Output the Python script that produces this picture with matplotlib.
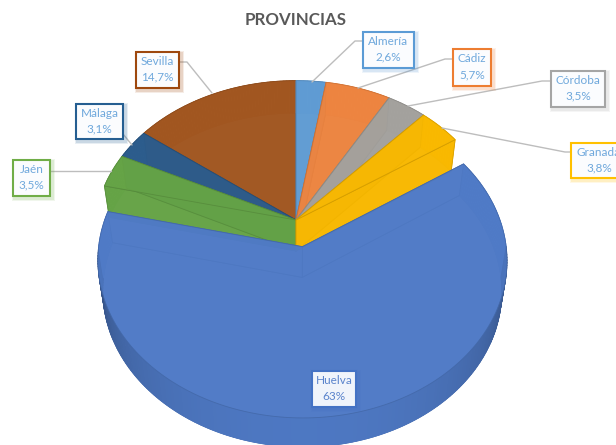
import numpy as np
import matplotlib
matplotlib.use("Agg")
import matplotlib.pyplot as plt
from matplotlib.patches import Polygon, Rectangle
import matplotlib.colors as mc

# ---- data ----
provinces = ["Almería", "Cádiz", "Córdoba", "Granada", "Huelva", "Jaén", "Málaga", "Sevilla"]
values = [2.6, 5.7, 3.5, 3.8, 63.0, 3.5, 3.1, 14.7]
value_labels = ["2,6%", "5,7%", "3,5%", "3,8%", "63%", "3,5%", "3,1%", "14,7%"]
colors = ["#5f9bd3", "#ec8440", "#a3a19d", "#f8b800", "#4f7ac6", "#65a346", "#2c5c8c", "#a15620"]
border_colors = ["#5b9bd5", "#ed7d31", "#a5a5a5", "#ffc000", "#4472c4", "#70ad47", "#255e91", "#9e480e"]
explode = [0, 0, 0, 0, 0.17, 0, 0, 0]
title = "PROVINCIAS"

# ---- layout (pixels) ----
CX, CY = 296, 220
RX, RY, K = 208, 157, 0.09
RAD, H, SHRINK, SHRINK_Y = 0.965, 31, 0.975, 0.99
ALPHA = 0.86
boxes = {"Almería": (363, 32, 51, 36), "Cádiz": (453, 49, 38, 37), "Córdoba": (551, 71, 54, 36),
         "Granada": (571, 143, 56, 35), "Huelva": (312, 371, 44, 36), "Jaén": (13, 160, 37, 36),
         "Málaga": (76, 104, 47, 35), "Sevilla": (136, 52, 43, 36)}
leaders = {"Almería": [(312, 82), (355, 41), (363, 41)], "Cádiz": [(358, 88), (445, 59), (453, 59)],
           "Córdoba": [(408, 106), (542, 81), (551, 81)], "Granada": [(442, 128), (565, 152), (571, 152)],
           "Jaén": [(111, 171), (50, 171)], "Málaga": [(132, 145), (123, 134)],
           "Sevilla": [(212, 93), (187, 62), (179, 62)]}
text_colors = {"Huelva": "#5b84cc"}

plt.rcParams["font.family"] = ["Lato", "DejaVu Sans"]
fig = plt.figure(figsize=(6.16, 4.45), dpi=100, facecolor="white")
ax = fig.add_axes([0, 0, 1, 1])
ax.set_xlim(0, 616)
ax.set_ylim(445, 0)
ax.axis("off")


def proj(X, Y, low=False):
    w = 1 + K * Y
    x, y = RX * X / w, -RY * Y / w
    if low:
        return CX + SHRINK * x, CY + SHRINK_Y * y + H
    return CX + x, CY + y


total = sum(values)
edges = np.concatenate([[0], np.cumsum(values)]) / total * 2 * np.pi


def shade(c, f):
    rgb = np.array(mc.to_rgb(c))
    return tuple(np.clip(rgb * f, 0, 1))


order = [7, 6, 0, 1, 2, 5, 3, 4]
for rank, i in enumerate(order):
    c = colors[i]
    a0, a1 = edges[i], edges[i + 1]
    mid = (a0 + a1) / 2
    ox, oy = explode[i] * np.sin(mid), explode[i] * np.cos(mid)
    th = np.linspace(a0, a1, max(8, int((a1 - a0) * 60)))
    xs, ys = ox + RAD * np.sin(th), oy + RAD * np.cos(th)
    ec = shade(c, 0.85)
    base = 1 + rank
    # bottom face, seen through the top
    pts = [proj(ox, oy, True)] + [proj(x, y, True) for x, y in zip(xs, ys)]
    ax.add_patch(Polygon(pts, closed=True, fc=c, ec=ec, lw=0.6, alpha=ALPHA, zorder=base))
    # outer wall, split into shaded strips
    for j in range(len(th) - 1):
        t = (th[j] + th[j + 1]) / 2
        f = 1.03 if np.cos(t) > 0 else 0.58 + 0.40 * abs(np.cos(t)) ** 0.7
        fc = shade(c, f)
        q = [proj(xs[j], ys[j]), proj(xs[j + 1], ys[j + 1]),
             proj(xs[j + 1], ys[j + 1], True), proj(xs[j], ys[j], True)]
        ax.add_patch(Polygon(q, closed=True, fc=fc, ec=fc, lw=0.5, zorder=base + 0.1))
    # radial walls
    for x, y in ((xs[0], ys[0]), (xs[-1], ys[-1])):
        q = [proj(ox, oy), proj(x, y), proj(x, y, True), proj(ox, oy, True)]
        ax.add_patch(Polygon(q, closed=True, fc=c, ec=ec, lw=0.6, alpha=ALPHA, zorder=base + 0.2))
    # top face
    pts = [proj(ox, oy)] + [proj(x, y) for x, y in zip(xs, ys)]
    ax.add_patch(Polygon(pts, closed=True, fc=c, ec=ec, lw=0.6, alpha=ALPHA, zorder=base + 0.3))

for name, lab, col in zip(provinces, value_labels, border_colors):
    x, y, w, h = boxes[name]
    if name in leaders:
        p = np.array(leaders[name])
        ax.plot(p[:, 0], p[:, 1], color="#bdbdbd", lw=1.0, zorder=20, solid_capstyle="round")
    for d, a in ((3, 0.10), (2, 0.15)):
        ax.add_patch(Rectangle((x - d + 2, y - d + 2), w + 2 * d, h + 2 * d, fc=col, ec="none", alpha=a, zorder=21))
    fc = "#f0f4fb" if name == "Huelva" else "#fbfcfe"
    ax.add_patch(Rectangle((x, y), w, h, fc=fc, ec=col, lw=1.5, zorder=22))
    tc = text_colors.get(name, "#6fa8dc")
    tx = x + w / 2
    ax.text(tx, y + h * 0.27, name, ha="center", va="center", fontsize=8.5, color=tc, zorder=23)
    ax.text(tx, y + h * 0.70, lab, ha="center", va="center", fontsize=8.5, color=tc, zorder=23)

ax.text(296, 20, title, ha="center", va="center", fontsize=12.2, fontweight="bold", color="#595959", zorder=30)

fig.savefig("out.png", dpi=100, facecolor="white")
